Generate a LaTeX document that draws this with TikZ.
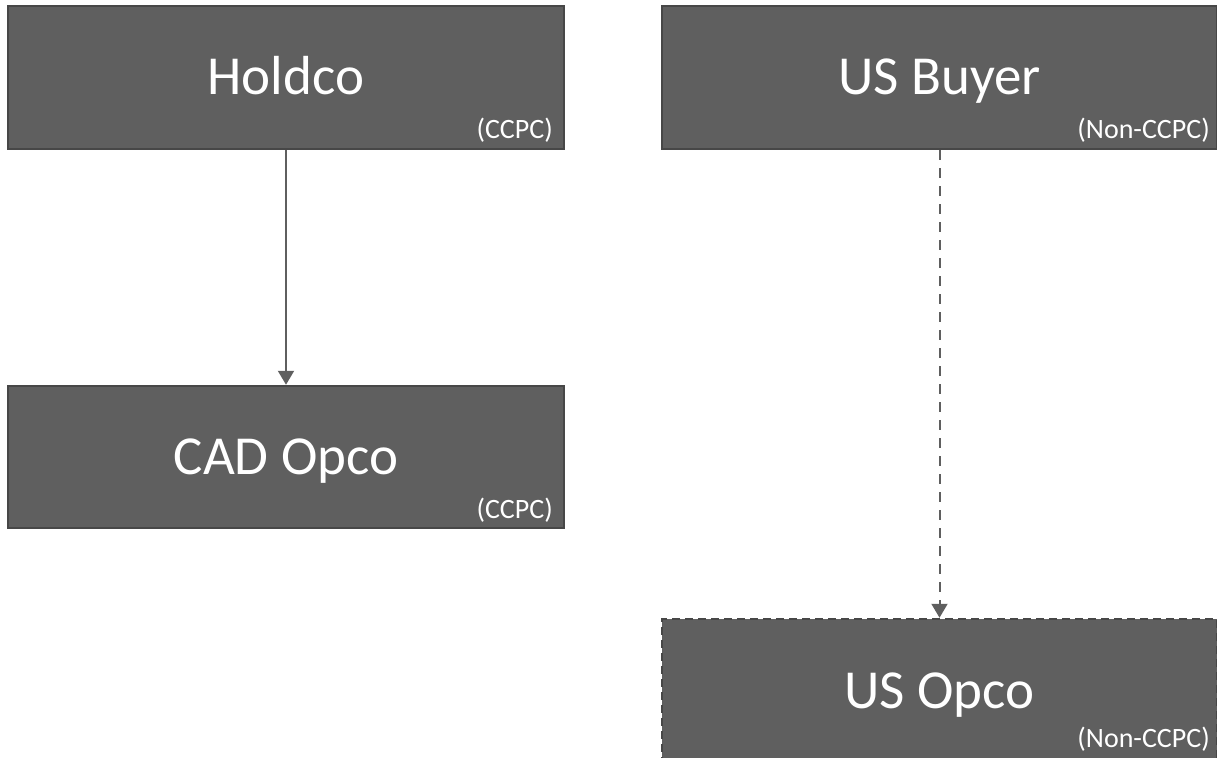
\documentclass[tikz,border=0pt]{standalone}
\usepackage{fontspec}
\setmainfont{Carlito}
\usepackage{tikz}
\usetikzlibrary{arrows.meta}
\definecolor{boxgray}{RGB}{95, 95, 95}
\definecolor{edgegray}{RGB}{71, 71, 71}
\tikzset{
    entity/.style={rectangle, draw=edgegray, line width=2.5pt, fill=boxgray, text=white, minimum width=556pt, minimum height=143pt, inner sep=0pt, font=\fontsize{55}{60}\selectfont, text height=35pt, text depth=0pt},
    newentity/.style={entity, dash pattern=on 8pt off 5pt},
    status/.style={text=white, inner sep=0pt, font=\fontsize{28}{32}\selectfont, anchor=base east},
    owns/.style={draw=boxgray, line width=2pt, -{Triangle[width=16pt, length=14pt]}},
    willown/.style={owns, dash pattern=on 10pt off 8pt}
}

\begin{document}
\begin{tikzpicture}[x=1pt, y=-1pt]
    \useasboundingbox (0,0) rectangle (1217,757);
    \clip (0,0) rectangle (1217,757);
    % canadian group
    \node[entity] (holdco) at (286,77.5) {Holdco};
    \node[entity, minimum height=142pt] (cadopco) at (286,457) {CAD Opco};
    \node[status] (holdcotag) at (553,139) {(CCPC)};
    \node[status] (cadopcotag) at (553,518) {(CCPC)};
    % us group
    \node[entity, minimum width=555pt] (usbuyer) at (939.5,77.5) {US Buyer};
    \node[newentity, minimum width=555pt] (usopco) at (939.5,690.5) {US Opco};
    \node[status] (usbuyertag) at (1210,139) {(Non-CCPC)};
    \node[status] (usopcotag) at (1210,747) {(Non-CCPC)};
    % ownership
    \draw[owns] (holdco) -- (cadopco);
    \draw[willown] (usbuyer) -- (usopco);
\end{tikzpicture}
\end{document}
